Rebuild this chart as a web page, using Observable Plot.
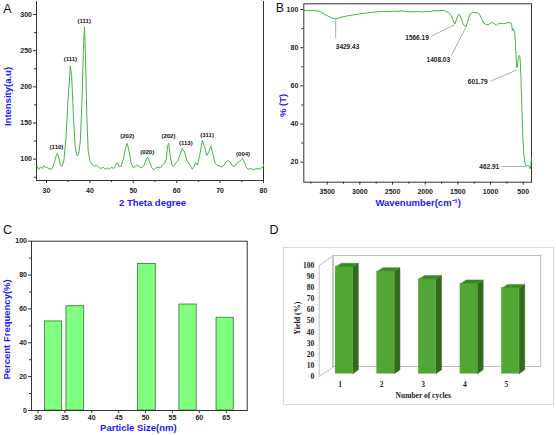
<!DOCTYPE html>
<html><head><meta charset="utf-8">
<script src="https://cdn.jsdelivr.net/npm/d3@7"></script>
<script src="https://cdn.jsdelivr.net/npm/@observablehq/plot@0.6"></script>
<style>
html,body{margin:0;padding:0;background:#fff;}
#fig{position:relative;width:556px;height:435px;overflow:hidden;font-family:"Liberation Sans",Arial,sans-serif;}
.panel{position:absolute;}
.letter{position:absolute;font-size:12.5px;line-height:1;transform:translate(-50%,-50%);color:#111;}
#dbox{position:absolute;left:283px;top:247px;width:271px;height:158px;border:1px solid #d9d9d9;box-sizing:border-box;}
</style></head><body><div id="fig"></div>
<script>
// ---------- Panel A: XRD ----------
const aTheta = [27.8,28.2,28.6,29.0,29.4,29.8,30.3,30.8,31.3,31.8,32.2,32.5,32.8,33.2,33.6,34.0,34.5,35.0,35.5,35.8,36.2,36.6,37.0,37.4,37.8,38.2,38.5,38.75,39.0,39.3,39.6,40.0,40.5,41.0,41.5,42.0,42.5,43.0,43.5,44.0,44.5,45.0,45.5,46.0,46.3,46.7,47.2,47.7,48.2,48.6,49.0,49.5,50.0,50.5,51.0,51.5,52.0,52.5,53.0,53.3,53.7,54.2,54.7,55.2,55.7,56.2,56.7,57.2,57.6,57.9,58.15,58.5,58.9,59.3,59.8,60.2,60.7,61.3,61.8,62.3,62.8,63.2,63.6,64.0,64.4,64.8,65.3,65.9,66.4,66.9,67.4,67.9,68.4,68.9,69.4,69.9,70.4,70.9,71.4,71.8,72.3,72.8,73.3,73.8,74.3,74.8,75.2,75.6,76.1,76.5,77.0,77.5,78.0,78.5,79.0,79.5,79.9,80.0];
const aIntensity = [90,86,89,87,91,89,88,86,87,95,104,108,103,92,90,98,130,185,229,215,160,118,105,106,125,185,250,283,240,160,112,98,93,90,92,89,87,89,86,88,86,89,87,92,95,90,90,100,115,122,112,95,88,90,92,89,88,92,100,103,97,89,85,88,89,88,92,94,100,118,122,105,92,90,95,97,105,115,110,99,94,90,86,90,95,92,105,126,118,105,110,118,105,94,91,91,89,92,97,98,96,91,90,94,96,99,101,96,88,86,87,86,86,87,86,88,89,93];
const aPeakLabels = ["(110)","(111)","(111)","(202)","(020)","(202)","(113)","(311)","(004)"];
const aPeakLabelTheta = [32.3,35.5,38.7,48.6,53.2,58.1,62.1,67.0,75.3];
const aPeakLabelY = [116.6,237.8,290.8,131.4,109.7,131.4,122.1,133.7,107.5];
const aXTicks = [30,40,50,60,70,80];
const aXMinor = [35,45,55,65,75];
const aYTicks = [100,150,200,250,300];
const aYMinor = [75,125,175,225,275];

// ---------- Panel B: FTIR ----------
const bWave = [3860,3800,3700,3640,3600,3550,3500,3450,3410,3370,3330,3280,3200,3100,3000,2900,2800,2700,2600,2500,2400,2350,2300,2200,2100,2050,2000,1950,1900,1800,1720,1680,1640,1600,1570,1545,1520,1500,1480,1450,1420,1400,1375,1350,1320,1290,1250,1200,1170,1140,1110,1080,1040,1000,970,940,910,880,850,800,750,700,680,665,650,630,615,600,590,575,560,548,535,520,505,490,470,455,430,410,395,385,375];
const bTrans = [99.6,99.5,99.4,99.3,98.8,97.8,96.8,95.9,95.4,95.2,95.5,96.0,96.6,97.2,97.7,98.2,98.6,98.9,99.0,99.1,99.0,99.3,99.0,98.8,98.9,98.7,99.0,98.9,99.2,99.4,99.5,99.0,98.4,96.8,94.0,92.4,94.8,97.0,97.5,95.5,92.5,91.5,90.8,93.5,97.5,98.2,98.5,98.2,97.5,95.5,93.0,92.3,92.0,92.8,93.2,92.5,91.6,92.5,92.8,92.6,93.0,93.2,92.8,89.0,90.0,88.0,80.0,69.5,70.0,74.0,76.0,75.0,65.0,48.0,33.0,24.0,19.0,18.2,18.3,17.8,16.5,17.5,22.0];
const bLabels = ["3429.43","1566.19","1408.03","601.79","462.91"];
const bPeakWave = [3370,1547,1383,592,439];
const bPeakT = [95.0,92.1,90.4,68.4,17.7];
const bLineEndWave = [3370,1919,1597,1000,832];
const bLineEndT = [84.8,85.8,75.9,62.4,17.7];
const bTextWave = [3189,2125,1799,1196,1020];
const bTextT = [80.6,85.0,73.6,61.9,17.7];
const bXTicks = [3500,3000,2500,2000,1500,1000,500];
const bXMinor = [3750,3250,2750,2250,1750,1250,750];
const bYTicks = [20,40,60,80,100];
const bYMinor = [30,50,70,90];

// ---------- Panel C: particle size ----------
const cBinLo = [31.3,35.3,48.6,56.3,63.2];
const cBinHi = [34.5,38.6,51.9,59.5,66.4];
const cFreq = [52.6,61.6,86.6,62.6,54.8];
const cXTicks = [30,35,40,45,50,55,60,65];
const cYTicks = [0,20,40,60,80,100];
const cYMinor = [10,30,50,70,90];

// ---------- Panel D: recycling ----------
const dCycles = [1,2,3,4,5];
const dYield = [96,92,85,81,77];
const dYTicks = [0,10,20,30,40,50,60,70,80,90,100];

const SANS = "Liberation Sans, Arial, sans-serif";
const SERIF = "Liberation Serif, Times New Roman, serif";
const BLUE = "#1a1aff";
const GREEN = "#43b543";
const fig = document.getElementById("fig");
function place(el, left, top){ el.classList.add("panel"); el.style.left = left+"px"; el.style.top = top+"px"; fig.appendChild(el); }
function letter(t, x, y){ const d=document.createElement("div"); d.className="letter"; d.textContent=t; d.style.left=x+"px"; d.style.top=y+"px"; fig.appendChild(d); }
const tickTxt = {fontWeight:"bold", fontSize:7, fill:"#222", stroke:"#333", label:null};
const yTitle = {text:d=>d, frameAnchor:"left", rotate:-90, textAnchor:"middle", lineAnchor:"middle"};
const xTitle = {text:d=>d, frameAnchor:"bottom", textAnchor:"middle", lineAnchor:"middle"};

// Panel A
const xrd = aTheta.map((t,i)=>({t, v:aIntensity[i]}));
const aLab = aPeakLabels.map((l,i)=>({l, t:aPeakLabelTheta[i], v:aPeakLabelY[i]}));
const A = Plot.plot({
  width:276, height:215, marginLeft:36, marginRight:13, marginTop:1, marginBottom:35,
  style:{fontFamily:SANS, background:"transparent", overflow:"visible"},
  x:{domain:[27.7,80]}, y:{domain:[70.5,318]},
  marks:[
    Plot.ruleY([70.5],{stroke:"#333"}),
    Plot.ruleX([27.7,80],{stroke:"#333"}),
    Plot.axisX(aXTicks,{...tickTxt, tickSize:3, tickPadding:5, tickFormat:d=>String(d)}),
    Plot.axisX(aXMinor,{...tickTxt, tickSize:2, tickFormat:()=>""}),
    Plot.axisY(aYTicks,{...tickTxt, tickSize:3, tickPadding:1.5, tickFormat:d=>String(d)}),
    Plot.axisY(aYMinor,{...tickTxt, tickSize:2, tickFormat:()=>""}),
    Plot.line(xrd,{x:"t", y:"v", stroke:GREEN, strokeWidth:1}),
    Plot.text(aLab,{x:"t", y:"v", text:"l", fontWeight:"bold", fontSize:6, fill:"#111"}),
    Plot.text(["Intensity(a.u)"],{...yTitle, dx:-28.5, dy:5.5, fill:BLUE, fontWeight:"bold", fontSize:9.5}),
    Plot.text(["2 Theta degree"],{...xTitle, dx:2.5, dy:22, fill:BLUE, fontWeight:"bold", fontSize:9.5})
  ]
});
place(A,0,0);

// Panel B
const ftir = bWave.map((w,i)=>({w, t:bTrans[i]}));
const bAnn = bLabels.map((l,i)=>({l, pw:bPeakWave[i], pt:bPeakT[i], ew:bLineEndWave[i], et:bLineEndT[i], tw:bTextWave[i], tt:bTextT[i]}));
const B = Plot.plot({
  width:280, height:215, marginLeft:27.3, marginRight:25, marginTop:3.3, marginBottom:33.3,
  style:{fontFamily:SANS, background:"transparent", overflow:"visible"},
  x:{domain:[3858,373]}, y:{domain:[9.5,103]},
  marks:[
    Plot.frame({stroke:"#333"}),
    Plot.axisX(bXTicks,{...tickTxt, tickSize:3, tickPadding:4, tickFormat:d=>String(d)}),
    Plot.axisX(bXMinor,{...tickTxt, tickSize:2, tickFormat:()=>""}),
    Plot.axisY(bYTicks,{...tickTxt, tickSize:3, tickPadding:2.5, tickFormat:d=>String(d)}),
    Plot.axisY(bYMinor,{...tickTxt, tickSize:2, tickFormat:()=>""}),
    Plot.line(ftir,{x:"w", y:"t", stroke:GREEN, strokeWidth:1}),
    Plot.link(bAnn,{x1:"pw", y1:"pt", x2:"ew", y2:"et", stroke:"#999", strokeWidth:0.8}),
    Plot.text(bAnn,{x:"tw", y:"tt", text:"l", fontWeight:"bold", fontSize:6.5, fill:"#222"}),
    Plot.text(["% (T)"],{...yTitle, dx:-20.6, dy:12.5, fill:BLUE, fontWeight:"bold", fontSize:9.5}),
    Plot.text(["Wavenumber(cm\u207B\u00B9)"],{...xTitle, dx:0.5, dy:20.6, fill:BLUE, fontWeight:"bold", fontSize:9.5})
  ]
});
place(B,276,0);

// Panel C
const cData = cFreq.map((v,i)=>({lo:cBinLo[i], hi:cBinHi[i], v}));
const C = Plot.plot({
  width:276, height:220, marginLeft:31, marginRight:29.3, marginTop:25.7, marginBottom:25,
  style:{fontFamily:SANS, background:"transparent", overflow:"visible"},
  x:{domain:[28.8,68.9]}, y:{domain:[0,100]},
  marks:[
    Plot.rectY(cData,{x1:"lo", x2:"hi", y:"v", fill:"#80ff80", stroke:"#3f6f3f", strokeWidth:0.8}),
    Plot.frame({stroke:"#333"}),
    Plot.axisX(cXTicks,{...tickTxt, tickSize:3, tickPadding:1.5, tickFormat:d=>String(d)}),
    Plot.axisY(cYTicks,{...tickTxt, tickSize:3, tickPadding:1.5, tickFormat:d=>String(d)}),
    Plot.axisY(cYMinor,{...tickTxt, tickSize:2, tickFormat:()=>""}),
    Plot.text(["Percent Frequency(%)"],{...yTitle, dx:-24.3, dy:3.6, fill:BLUE, fontWeight:"bold", fontSize:9.5}),
    Plot.text(["Particle Size(nm)"],{...xTitle, dx:-1, dy:17.8, fill:BLUE, fontWeight:"bold", fontSize:9.5})
  ]
});
place(C,0,215);

// Panel D (pseudo-3D column chart)
const box = document.createElement("div"); box.id="dbox"; fig.appendChild(box);
const DX = 0.337, DY = 8.56;      // depth of the chart box in data units
const F = 0.3, G = 0.4, W = 0.41; // bar front depth, bar depth, bar width
const X0 = 0.5, X1 = 5.5, YTOP = 100;
const wall = [[X0,0],[X0,YTOP],[X0+DX,YTOP+DY],[X0+DX,DY],[X0,0]].map(([x,y])=>({x,y}));
const fronts = [], sides = [], tops = [];
dCycles.forEach((c,i)=>{
  const v = dYield[i];
  const x1 = c - W/2 + F*DX, x2 = c + W/2 + F*DX, y1 = F*DY, y2 = v + F*DY, ox = G*DX, oy = G*DY;
  fronts.push({x1,x2,y1,y2});
  [[x2,y1],[x2,y2],[x2+ox,y2+oy],[x2+ox,y1+oy],[x2,y1]].forEach(([x,y])=>sides.push({id:i,x,y}));
  [[x1,y2],[x2,y2],[x2+ox,y2+oy],[x1+ox,y2+oy],[x1,y2]].forEach(([x,y])=>tops.push({id:i,x,y}));
});
const D = Plot.plot({
  width:280, height:220, marginLeft:42.7, marginRight:29.3, marginTop:50, marginBottom:59,
  style:{fontFamily:SERIF, background:"transparent", overflow:"visible"},
  x:{domain:[X0,X1]}, y:{domain:[0,YTOP]},
  marks:[
    Plot.rect([0],{x1:X0+DX, x2:X1+DX, y1:DY, y2:YTOP+DY, fill:"none", stroke:"#bdbdbd", strokeWidth:1}),
    Plot.line(wall,{x:"x", y:"y", stroke:"#bdbdbd", strokeWidth:1}),
    Plot.line(sides,{x:"x", y:"y", z:"id", fill:"#2f6b1b", stroke:"#2f6b1b", strokeWidth:0.5}),
    Plot.line(tops,{x:"x", y:"y", z:"id", fill:"#3d8a25", stroke:"#3d8a25", strokeWidth:0.5}),
    Plot.rect(fronts,{x1:"x1", x2:"x2", y1:"y1", y2:"y2", fill:"#52a734", stroke:"#47962c", strokeWidth:0.5}),
    Plot.axisY(dYTicks,{label:null, tickSize:0, tickPadding:5, fontFamily:SERIF, fontWeight:"bold", fontSize:7.5, fill:"#222", tickFormat:d=>String(d)}),
    Plot.axisX(dCycles,{label:null, tickSize:0, tickPadding:5, fontFamily:SERIF, fontWeight:"bold", fontSize:7.5, fill:"#222", tickFormat:d=>String(d)}),
    Plot.text(["Yield (%)"],{...yTitle, dx:-22, dy:-2.8, fontFamily:SERIF, fontWeight:"bold", fontSize:8, fill:"#222"}),
    Plot.text(["Number of cycles"],{...xTitle, dy:19, fontFamily:SERIF, fontWeight:"bold", fontSize:7.5, fill:"#222"})
  ]
});
place(D,276,215);

letter("A",7.5,8.5); letter("B",280,8); letter("C",7.5,230); letter("D",274,230);
</script></body></html>
